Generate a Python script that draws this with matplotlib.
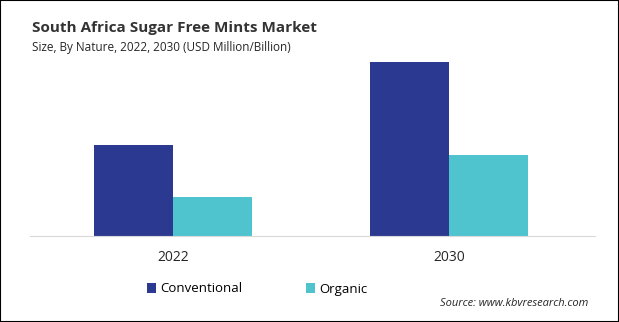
import matplotlib

matplotlib.use("Agg")
import matplotlib.pyplot as plt
import numpy as np
from matplotlib.patches import Rectangle

plt.rcParams["font.family"] = ["Open Sans", "DejaVu Sans"]

years = ["2022", "2030"]
conventional = [91, 174]
organic = [39, 81]

C_CONV = "#2b3990"
C_ORG = "#4fc4cf"

W, H = 619, 322
fig = plt.figure(figsize=(W / 100, H / 100), dpi=100)
fig.patches.append(Rectangle((0, 0), 1, 1, transform=fig.transFigure,
                             fill=False, edgecolor="black", lw=1.5))

# axes: x from 30px to 595px, baseline at y=236px, top at 40px
ax = fig.add_axes([30 / W, 1 - 236 / H, 565 / W, 196 / H])
x = np.arange(len(years))
bw = 0.286
ax.bar(x - bw / 2, conventional, bw, color=C_CONV, label="Conventional")
ax.bar(x + bw / 2, organic, bw, color=C_ORG, label="Organic")
ax.set_xlim(-0.518, 1.529)
ax.set_ylim(0, 196)
for s in ["top", "right", "left"]:
    ax.spines[s].set_visible(False)
ax.spines["bottom"].set_color("#d9d9d9")
ax.set_yticks([])
ax.set_xticks(x)
ax.set_xticklabels(years, fontsize=10, color="#262626")
ax.tick_params(axis="x", length=0, pad=10)

fig.text(32 / W, 1 - 28 / H, "South Africa Sugar Free Mints Market",
         fontsize=11, fontweight="bold", color="#333333", va="center")
fig.text(32 / W, 1 - 47 / H, "Size, By Nature, 2022, 2030 (USD Million/Billion)",
         fontsize=8.5, color="#262626", va="center")

fig.legend(loc="center", bbox_to_anchor=(257 / W, 1 - 289 / H), ncol=2,
           frameon=False, fontsize=9.5, handlelength=0.7, handleheight=0.7,
           handletextpad=0.3, columnspacing=4.8)

fig.text(588 / W, 1 - 304 / H, "Source: www.kbvresearch.com", fontsize=8,
         style="italic", color="#262626", ha="right", va="center")

fig.savefig("out.png", dpi=100)
